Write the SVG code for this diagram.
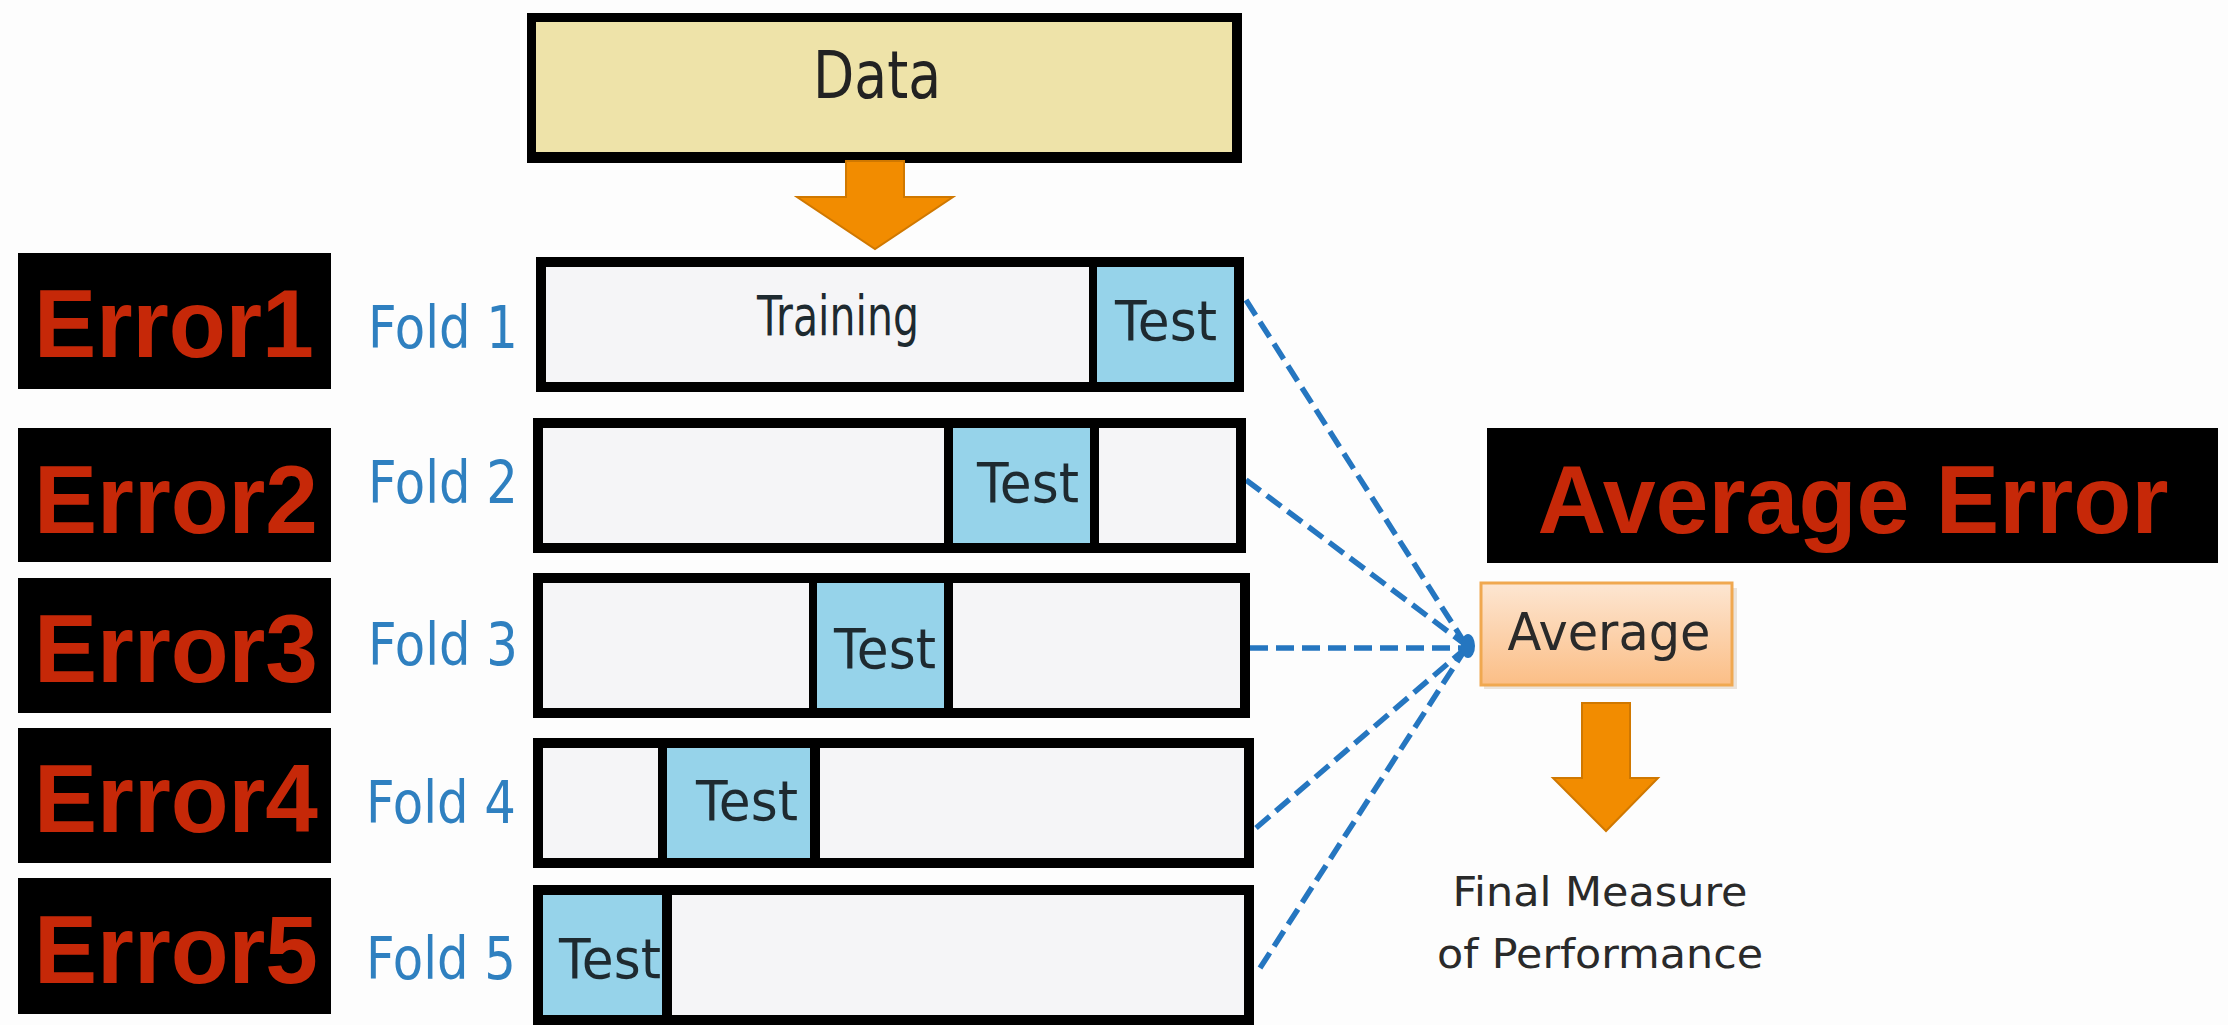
<svg xmlns="http://www.w3.org/2000/svg" width="2228" height="1025" viewBox="0 0 2228 1025">
<defs>
<style>
.err{fill:#000}
.errt{font-family:"Liberation Sans",Arial,sans-serif;font-weight:bold;font-size:97px;fill:#C62808;text-anchor:middle}
.fold{font-family:"DejaVu Sans",Verdana,sans-serif;font-size:59px;fill:#2F80C0}
.bar{fill:#000}
.cell{fill:#F5F5F7}
.test{fill:#96D3EA}
.tt{font-family:"DejaVu Sans",Verdana,sans-serif;font-size:55px;fill:#1E2A30;text-anchor:middle}
.dash{stroke:#2576C0;stroke-width:5.5;stroke-dasharray:18 8;fill:none}
.oarrow{fill:#F28C00;stroke:#D07800;stroke-width:2}
.dark{font-family:"DejaVu Sans",Verdana,sans-serif;fill:#2A2A2A;text-anchor:middle}
</style>
<linearGradient id="avgGrad" x1="0" y1="0" x2="0" y2="1">
<stop offset="0" stop-color="#FDE6D2"/>
<stop offset="1" stop-color="#FBBE86"/>
</linearGradient>
<linearGradient id="orGrad" x1="0" y1="0" x2="1" y2="0">
<stop offset="0" stop-color="#F59A10"/>
<stop offset="1" stop-color="#EE8400"/>
</linearGradient>
</defs>
<rect width="2228" height="1025" fill="#FDFDFD"/>

<g id="data">
<rect x="527" y="13" width="715" height="150" fill="#000"/>
<rect x="536" y="22" width="696" height="130" fill="#EEE3A9"/>
<text x="877" y="98" font-family="DejaVu Sans,Verdana,sans-serif" font-size="66" fill="#222" text-anchor="middle" textLength="128" lengthAdjust="spacingAndGlyphs">Data</text>
</g>

<g id="connectors">
<path class="oarrow" fill="url(#orGrad)" d="M846,161 L904,161 L904,197 L953,197 L875,249 L797,197 L846,197 Z"/>
<line class="dash" x1="1246" y1="300" x2="1466" y2="645"/>
<line class="dash" x1="1246" y1="480" x2="1466" y2="645"/>
<line class="dash" x1="1250" y1="648" x2="1466" y2="648"/>
<line class="dash" x1="1256" y1="828" x2="1466" y2="648"/>
<line class="dash" x1="1260" y1="968" x2="1466" y2="648"/>
<ellipse cx="1468" cy="646" rx="7" ry="12" fill="#2576C0"/>
<path class="oarrow" fill="url(#orGrad)" d="M1582,703 L1630,703 L1630,778 L1658,778 L1606,831 L1553,778 L1582,778 Z"/>
</g>

<g id="error1"><rect class="err" x="18" y="253" width="313" height="136"/><text class="errt" x="174" y="357" textLength="280" lengthAdjust="spacingAndGlyphs">Error1</text></g>
<g id="error2"><rect class="err" x="18" y="428" width="313" height="134"/><text class="errt" x="176" y="533" textLength="284" lengthAdjust="spacingAndGlyphs">Error2</text></g>
<g id="error3"><rect class="err" x="18" y="578" width="313" height="135"/><text class="errt" x="176" y="682" textLength="284" lengthAdjust="spacingAndGlyphs">Error3</text></g>
<g id="error4"><rect class="err" x="18" y="728" width="313" height="135"/><text class="errt" x="176" y="832" textLength="284" lengthAdjust="spacingAndGlyphs">Error4</text></g>
<g id="error5"><rect class="err" x="18" y="878" width="313" height="136"/><text class="errt" x="176" y="983" textLength="284" lengthAdjust="spacingAndGlyphs">Error5</text></g>

<g id="fold1">
<text class="fold" x="368" y="348" textLength="150" lengthAdjust="spacingAndGlyphs">Fold 1</text>
<rect class="bar" x="536" y="257" width="708" height="135"/>
<rect class="cell" x="546" y="267" width="543" height="115"/>
<rect class="test" x="1097" y="267" width="137" height="115"/>
<text class="tt" x="838" y="335" font-size="48" textLength="162" lengthAdjust="spacingAndGlyphs">Training</text>
<text class="tt" x="1166" y="340" textLength="102" lengthAdjust="spacingAndGlyphs">Test</text>
</g>

<g id="fold2">
<text class="fold" x="368" y="503" textLength="150" lengthAdjust="spacingAndGlyphs">Fold 2</text>
<rect class="bar" x="533" y="418" width="713" height="135"/>
<rect class="cell" x="543" y="428" width="401" height="115"/>
<rect class="test" x="953" y="428" width="137" height="115"/>
<rect class="cell" x="1099" y="428" width="137" height="115"/>
<text class="tt" x="1028" y="502" textLength="102" lengthAdjust="spacingAndGlyphs">Test</text>
</g>

<g id="fold3">
<text class="fold" x="368" y="665" textLength="150" lengthAdjust="spacingAndGlyphs">Fold 3</text>
<rect class="bar" x="533" y="573" width="717" height="145"/>
<rect class="cell" x="543" y="583" width="266" height="125"/>
<rect class="test" x="817" y="583" width="127" height="125"/>
<rect class="cell" x="953" y="583" width="287" height="125"/>
<text class="tt" x="885" y="668" textLength="102" lengthAdjust="spacingAndGlyphs">Test</text>
</g>

<g id="fold4">
<text class="fold" x="366" y="823" textLength="150" lengthAdjust="spacingAndGlyphs">Fold 4</text>
<rect class="bar" x="533" y="738" width="721" height="130"/>
<rect class="cell" x="543" y="748" width="115" height="110"/>
<rect class="test" x="667" y="748" width="143" height="110"/>
<rect class="cell" x="820" y="748" width="424" height="110"/>
<text class="tt" x="747" y="820" textLength="102" lengthAdjust="spacingAndGlyphs">Test</text>
</g>

<g id="fold5">
<text class="fold" x="366" y="979" textLength="150" lengthAdjust="spacingAndGlyphs">Fold 5</text>
<rect class="bar" x="533" y="885" width="721" height="140"/>
<rect class="test" x="543" y="895" width="119" height="120"/>
<rect class="cell" x="672" y="895" width="572" height="120"/>
<text class="tt" x="610" y="978" textLength="102" lengthAdjust="spacingAndGlyphs">Test</text>
</g>

<g id="average-error">
<rect x="1487" y="428" width="731" height="135" fill="#000"/>
<text class="errt" x="1853" y="533" textLength="631" lengthAdjust="spacingAndGlyphs">Average Error</text>
</g>

<g id="average">
<rect x="1484" y="588" width="253" height="101" fill="#D9C9B8" opacity="0.5"/>
<rect x="1481" y="583" width="251" height="102" fill="url(#avgGrad)" stroke="#F0A850" stroke-width="3"/>
<text class="dark" x="1609" y="650" font-size="51" textLength="203" lengthAdjust="spacingAndGlyphs">Average</text>
</g>

<g id="final">
<text class="dark" x="1600" y="906" font-size="41" fill="#404040" textLength="295" lengthAdjust="spacingAndGlyphs">Final Measure</text>
<text class="dark" x="1600" y="968" font-size="41" fill="#404040" textLength="326" lengthAdjust="spacingAndGlyphs">of Performance</text>
</g>
</svg>
